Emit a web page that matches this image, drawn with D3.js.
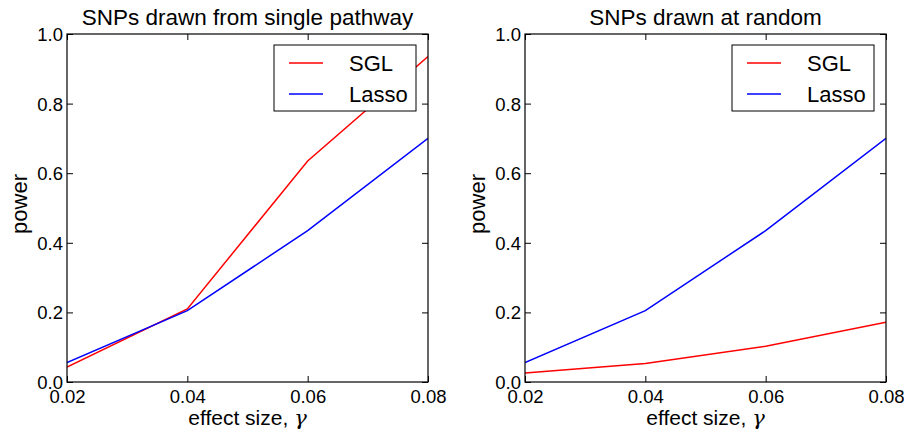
<!DOCTYPE html>
<html>
<head>
<meta charset="utf-8">
<script src="https://cdn.jsdelivr.net/npm/d3@7"></script>
<style>
  body { margin: 0; background: #fff; }
  svg text { font-family: "Liberation Sans", Arial, sans-serif; fill: #000; }
</style>
</head>
<body>
<div id="chart"></div>
<script>
var width = 904,
    height = 434;

// effect sizes on the x axis
var effectSizes = [0.02, 0.04, 0.06, 0.08];
var xTicks = [0.02, 0.04, 0.06, 0.08];
var yTicks = [0, 0.2, 0.4, 0.6, 0.8, 1.0];

// power
var pathwaySGL = [0.043, 0.21, 0.635, 0.935];
var pathwayLasso = [0.056, 0.205, 0.435, 0.70];
var randomSGL = [0.026, 0.053, 0.103, 0.172];
var randomLasso = [0.056, 0.205, 0.435, 0.70];

var seriesNames = ["SGL", "Lasso"];
var seriesColors = ["#ff0000", "#0000ff"];

var panels = [
  { title: "SNPs drawn from single pathway", left: 67, series: [pathwaySGL, pathwayLasso] },
  { title: "SNPs drawn at random", left: 525, series: [randomSGL, randomLasso] }
];

var plotW = 361, plotH = 348, plotTop = 34, tickLen = 6;

var svg = d3.select("#chart").append("svg")
    .attr("width", width)
    .attr("height", height);

panels.forEach(function(p, pi) {
  var g = svg.append("g").attr("transform", "translate(" + p.left + "," + plotTop + ")");

  var x = d3.scaleLinear().domain([0.02, 0.08]).range([0, plotW]);
  var y = d3.scaleLinear().domain([0, 1]).range([plotH, 0]);

  // inward ticks on all four sides, labels only left and bottom
  var bottom = g.append("g").attr("transform", "translate(0," + plotH + ")")
      .call(d3.axisBottom(x).tickValues(xTicks).tickSize(-tickLen).tickPadding(8).tickFormat(d3.format(".2f")));
  var topAx = g.append("g")
      .call(d3.axisTop(x).tickValues(xTicks).tickSize(-tickLen).tickFormat(""));
  var left = g.append("g")
      .call(d3.axisLeft(y).tickValues(yTicks).tickSize(-tickLen).tickPadding(4).tickFormat(d3.format(".1f")));
  var right = g.append("g").attr("transform", "translate(" + plotW + ",0)")
      .call(d3.axisRight(y).tickValues(yTicks).tickSize(-tickLen).tickFormat(""));

  [bottom, topAx, left, right].forEach(function(a) {
    a.select(".domain").remove();
    a.selectAll("line").attr("stroke", "#000").attr("stroke-width", 1);
    a.selectAll("text")
        .style("font-size", "18.5px")
        .style("font-family", "'Liberation Sans', Arial, sans-serif")
        .attr("fill", "#000");
  });
  bottom.selectAll("text").attr("dy", "0.71em");
  left.selectAll("text").attr("dy", "0.35em");

  // lines
  var line = d3.line()
      .x(function(d, i) { return x(effectSizes[i]); })
      .y(function(d) { return y(d); });

  g.append("clipPath").attr("id", "clip" + pi)
    .append("rect").attr("width", plotW).attr("height", plotH);

  p.series.forEach(function(s, i) {
    g.append("path")
        .datum(s)
        .attr("clip-path", "url(#clip" + pi + ")")
        .attr("fill", "none")
        .attr("stroke", seriesColors[i])
        .attr("stroke-width", 1.5)
        .attr("d", line);
  });

  // frame
  g.append("rect")
      .attr("width", plotW)
      .attr("height", plotH)
      .attr("fill", "none")
      .attr("stroke", "#000")
      .attr("stroke-width", 1.2);

  // legend
  var lg = g.append("g").attr("transform", "translate(" + (plotW - 154) + ",11)");
  lg.append("rect")
      .attr("width", 142)
      .attr("height", 66)
      .attr("fill", "#fff")
      .attr("stroke", "#000")
      .attr("stroke-width", 1);
  seriesNames.forEach(function(name, i) {
    var yy = 18 + i * 31;
    lg.append("line")
        .attr("x1", 15).attr("x2", 49)
        .attr("y1", yy).attr("y2", yy)
        .attr("stroke", seriesColors[i])
        .attr("stroke-width", 1.5);
    lg.append("text")
        .attr("x", 75)
        .attr("y", yy)
        .attr("dy", "0.36em")
        .style("font-size", "22px")
        .text(name);
  });

  // title
  g.append("text")
      .attr("x", plotW / 2)
      .attr("y", -9)
      .attr("text-anchor", "middle")
      .style("font-size", "22.5px")
      .text(p.title);

  // axis labels
  var xl = g.append("text")
      .attr("x", plotW / 2)
      .attr("y", plotH + 43)
      .attr("text-anchor", "middle")
      .style("font-size", "21px");
  xl.append("tspan").text("effect size, ");
  xl.append("tspan")
      .style("font-family", "'DejaVu Serif', serif")
      .style("font-style", "italic")
      .text("γ");

  g.append("text")
      .attr("transform", "translate(-40," + (plotH / 2 - 4) + ")rotate(-90)")
      .attr("text-anchor", "middle")
      .style("font-size", "22px")
      .text("power");
});
</script>
</body>
</html>
